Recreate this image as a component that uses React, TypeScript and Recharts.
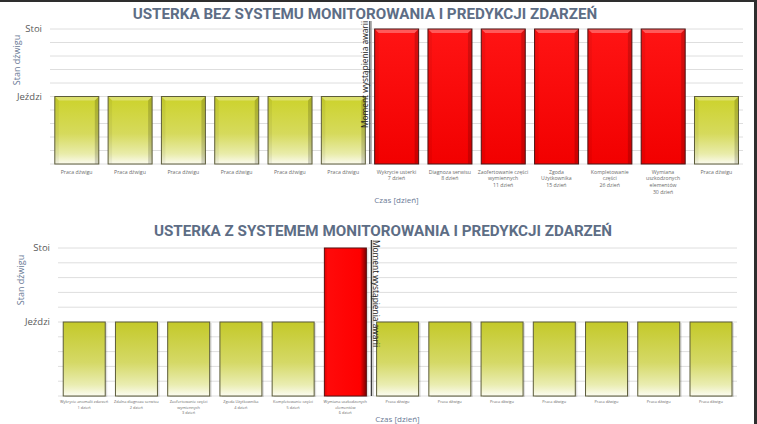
import { BarChart, Bar, XAxis, YAxis, CartesianGrid, ReferenceLine } from 'recharts';

// stan dźwigu: 10 = Stoi, 5 = Jeździ
const STOI = 10;
const JEZDZI = 5;
const Y_TICKS = [0, 1, 2, 3, 4, 5, 6, 7, 8, 9, 10];

const topLabels = [
  'Praca dźwigu',
  'Praca dźwigu',
  'Praca dźwigu',
  'Praca dźwigu',
  'Praca dźwigu',
  'Praca dźwigu',
  'Wykrycie usterki\n7 dzień',
  'Diagnoza serwisu\n8 dzień',
  'Zaofertowanie części\nwymiennych\n11 dzień',
  'Zgoda\nUżytkownika\n15 dzień',
  'Kompletowanie\nczęści\n26 dzień',
  'Wymiana\nuszkodzonych\nelementów\n30 dzień',
  'Praca dźwigu',
];
const topValues = [5, 5, 5, 5, 5, 5, 10, 10, 10, 10, 10, 10, 5];

const bottomLabels = [
  'Wykrycie anomalii zdarzeń\n1 dzień',
  'Zdalna diagnoza serwisu\n2 dzień',
  'Zaofertowanie części\nwymiennych\n3 dzień',
  'Zgoda Użytkownika\n4 dzień',
  'Kompletowanie części\n5 dzień',
  'Wymiana uszkodzonych\nelementów\n6 dzień',
  'Praca dźwigu',
  'Praca dźwigu',
  'Praca dźwigu',
  'Praca dźwigu',
  'Praca dźwigu',
  'Praca dźwigu',
  'Praca dźwigu',
];
const bottomValues = [5, 5, 5, 5, 5, 10, 5, 5, 5, 5, 5, 5, 5];

const FONT = '"Open Sans", "DejaVu Sans", sans-serif';
const TITLE_COLOR = '#5d6d85';
const AXIS_TITLE = '#6a7a96';

const toRows = (labels: string[], values: number[]) =>
  labels.map((label, i) => ({ id: `k${i + 1}`, label, stan: values[i] }));

const topData = toRows(topLabels, topValues);
const bottomData = toRows(bottomLabels, bottomValues);

const yFormat = (v: number) => (v === STOI ? 'Stoi' : v === JEZDZI ? 'Jeździ' : '');

function MultiTick(props: any) {
  const { x, y, index, labels, size, lineH } = props;
  const lines: string[] = (labels[index] || '').split('\n');
  return (
    <text x={x} y={y} textAnchor="middle" fontSize={size} fill="#6b6b6b" fontFamily={FONT}>
      {lines.map((l, i) => (
        <tspan key={i} x={x} dy={i === 0 ? '0.35em' : lineH}>
          {l}
        </tspan>
      ))}
    </text>
  );
}

// słupki z "fazą" jak w Excelu (wykres górny)
function BevelBar(props: any) {
  const { x, y, width, height, payload } = props;
  if (!height) return null;
  const red = payload.stan === STOI;
  const b = 4;
  return (
    <g>
      <rect x={x} y={y} width={width} height={height} fill={red ? 'url(#redTop)' : 'url(#yelTop)'} />
      <polygon
        points={`${x},${y} ${x + width},${y} ${x + width - b},${y + b} ${x + b},${y + b}`}
        fill="#ffffff"
        opacity={0.3}
      />
      <polygon
        points={`${x + width},${y} ${x + width},${y + height} ${x + width - b},${y + height} ${x + width - b},${y + b}`}
        fill="#000000"
        opacity={0.16}
      />
      <polygon
        points={`${x},${y} ${x + b},${y + b} ${x + b},${y + height} ${x},${y + height}`}
        fill="#000000"
        opacity={0.05}
      />
      <rect x={x} y={y} width={width} height={height} fill="none" stroke={red ? '#4a1414' : '#5c5c3a'} strokeWidth={1} />
    </g>
  );
}

// prostsze słupki z cieniem (wykres dolny)
function FlatBar(props: any) {
  const { x, y, width, height, payload } = props;
  if (!height) return null;
  const red = payload.stan === STOI;
  return (
    <g>
      <rect x={x + 2} y={y + 1} width={width} height={height} fill="#000" opacity={0.12} />
      <rect x={x} y={y} width={width} height={height} fill={red ? 'url(#redBot)' : 'url(#yelBot)'} stroke={red ? '#5a1010' : '#5c5c3a'} strokeWidth={1} />
    </g>
  );
}

function AwariaLine(props: any) {
  const { x1, y1, y2, flip } = props;
  const top = Math.min(y1, y2) - 8;
  const bottom = Math.max(y1, y2);
  const x = x1;
  return (
    <g>
      <line x1={x} y1={top} x2={x} y2={bottom} stroke="#3c3c3c" strokeWidth={1.3} />
      <line x1={x + 1.6} y1={top} x2={x + 1.6} y2={bottom} stroke="#b0b0b0" strokeWidth={1} />
      {flip ? (
        <text
          x={x + 2}
          y={top}
          transform={`rotate(90 ${x + 2} ${top})`}
          textAnchor="start"
          fontSize={8.4}
          fill="#222"
          fontFamily={FONT}
        >
          Moment wystąpienia awarii
        </text>
      ) : (
        <text
          x={x - 1.5}
          y={top}
          transform={`rotate(-90 ${x - 1.5} ${top})`}
          textAnchor="end"
          fontSize={8.4}
          fill="#222"
          fontFamily={FONT}
        >
          Moment wystąpienia awarii
        </text>
      )}
    </g>
  );
}

function Gradients() {
  return (
    <defs>
      <linearGradient id="yelTop" x1="0" y1="0" x2="0" y2="1">
        <stop offset="0%" stopColor="#ccd22a" />
        <stop offset="55%" stopColor="#d6da5c" />
        <stop offset="85%" stopColor="#e9ecaa" />
        <stop offset="100%" stopColor="#fbfbef" />
      </linearGradient>
      <linearGradient id="redTop" x1="0" y1="0" x2="0" y2="1">
        <stop offset="0%" stopColor="#ff1414" />
        <stop offset="100%" stopColor="#f20000" />
      </linearGradient>
      <linearGradient id="yelBot" x1="0" y1="0" x2="0" y2="1">
        <stop offset="0%" stopColor="#c4c929" />
        <stop offset="55%" stopColor="#d5d967" />
        <stop offset="85%" stopColor="#eaedb2" />
        <stop offset="100%" stopColor="#fcfcf2" />
      </linearGradient>
      <linearGradient id="redBot" x1="0" y1="0" x2="1" y2="0">
        <stop offset="0%" stopColor="#e00000" />
        <stop offset="8%" stopColor="#ff0a0a" />
        <stop offset="85%" stopColor="#ff0000" />
        <stop offset="100%" stopColor="#7a0000" />
      </linearGradient>
    </defs>
  );
}

const titleStyle: React.CSSProperties = {
  position: 'absolute',
  fontFamily: 'Roboto, sans-serif',
  fontWeight: 700,
  fontSize: 15.2,
  color: TITLE_COLOR,
  whiteSpace: 'nowrap',
  lineHeight: '16px',
};

const yTitleStyle: React.CSSProperties = {
  position: 'absolute',
  fontFamily: FONT,
  fontSize: 9,
  color: AXIS_TITLE,
  whiteSpace: 'nowrap',
  transform: 'translate(-50%, -50%) rotate(-90deg)',
};

export default function App() {
  return (
    <div
      style={{
        position: 'absolute',
        left: 0,
        top: 0,
        width: 757,
        height: 424,
        background: '#fff',
        overflow: 'hidden',
        boxSizing: 'border-box',
        borderTop: '2px solid #2e2e2e',
        borderRight: '3px solid #2e2e2e',
      }}
    >
      <div style={{ position: 'absolute', left: 0, top: -2 }}>
        <BarChart width={757} height={210} data={topData} margin={{ top: 29, right: 14, left: 10, bottom: 0 }} barCategoryGap="9%">
          <Gradients />
          <CartesianGrid vertical={false} stroke="#dedede" />
          <XAxis
            dataKey="id"
            height={46}
            axisLine={false}
            tickLine={false}
            interval={0}
            tickMargin={2}
            tick={(p: any) => <MultiTick {...p} labels={topLabels} size={5.2} lineH={6.6} />}
            label={{ value: 'Czas [dzień]', position: 'insideBottom', offset: 7, fill: AXIS_TITLE, fontSize: 8, fontFamily: FONT }}
          />
          <YAxis
            domain={[0, 10]}
            ticks={Y_TICKS}
            width={40}
            axisLine={false}
            tickLine={false}
            interval={0}
            tickFormatter={yFormat}
            tick={{ fill: '#595959', fontSize: 9.5, fontFamily: FONT }}
          />
          <Bar dataKey="stan" isAnimationActive={false} shape={(p: any) => <BevelBar {...p} />} />
          <ReferenceLine x="k7" position="start" shape={(p: any) => <AwariaLine {...p} />} />
        </BarChart>
      </div>

      <div style={{ position: 'absolute', left: 0, top: 208 }}>
        <BarChart width={757} height={214} data={bottomData} margin={{ top: 38, right: 20, left: 18, bottom: 0 }} barCategoryGap="10%">
          <Gradients />
          <CartesianGrid vertical={false} stroke="#dedede" />
          <XAxis
            dataKey="id"
            height={28}
            axisLine={false}
            tickLine={false}
            interval={0}
            tickMargin={0}
            tick={(p: any) => <MultiTick {...p} labels={bottomLabels} size={3.9} lineH={5.3} />}
            label={{ value: 'Czas [dzień]', position: 'insideBottom', offset: 2, fill: AXIS_TITLE, fontSize: 8, fontFamily: FONT }}
          />
          <YAxis
            domain={[0, 10]}
            ticks={Y_TICKS}
            width={40}
            axisLine={false}
            tickLine={false}
            interval={0}
            tickFormatter={yFormat}
            tick={{ fill: '#595959', fontSize: 9.5, fontFamily: FONT }}
          />
          <Bar dataKey="stan" isAnimationActive={false} shape={(p: any) => <FlatBar {...p} />} />
          <ReferenceLine x="k7" position="start" shape={(p: any) => <AwariaLine {...p} flip />} />
        </BarChart>
      </div>

      <div style={{ ...titleStyle, left: 365, top: 4, transform: 'translateX(-50%)' }}>
        USTERKA BEZ SYSTEMU MONITOROWANIA I PREDYKCJI ZDARZEŃ
      </div>
      <div style={{ ...titleStyle, left: 383, top: 221, transform: 'translateX(-50%)' }}>
        USTERKA Z SYSTEMEM MONITOROWANIA I PREDYKCJI ZDARZEŃ
      </div>
      <div style={{ ...yTitleStyle, left: 16, top: 58 }}>Stan dźwigu</div>
      <div style={{ ...yTitleStyle, left: 20, top: 278 }}>Stan dźwigu</div>
    </div>
  );
}
